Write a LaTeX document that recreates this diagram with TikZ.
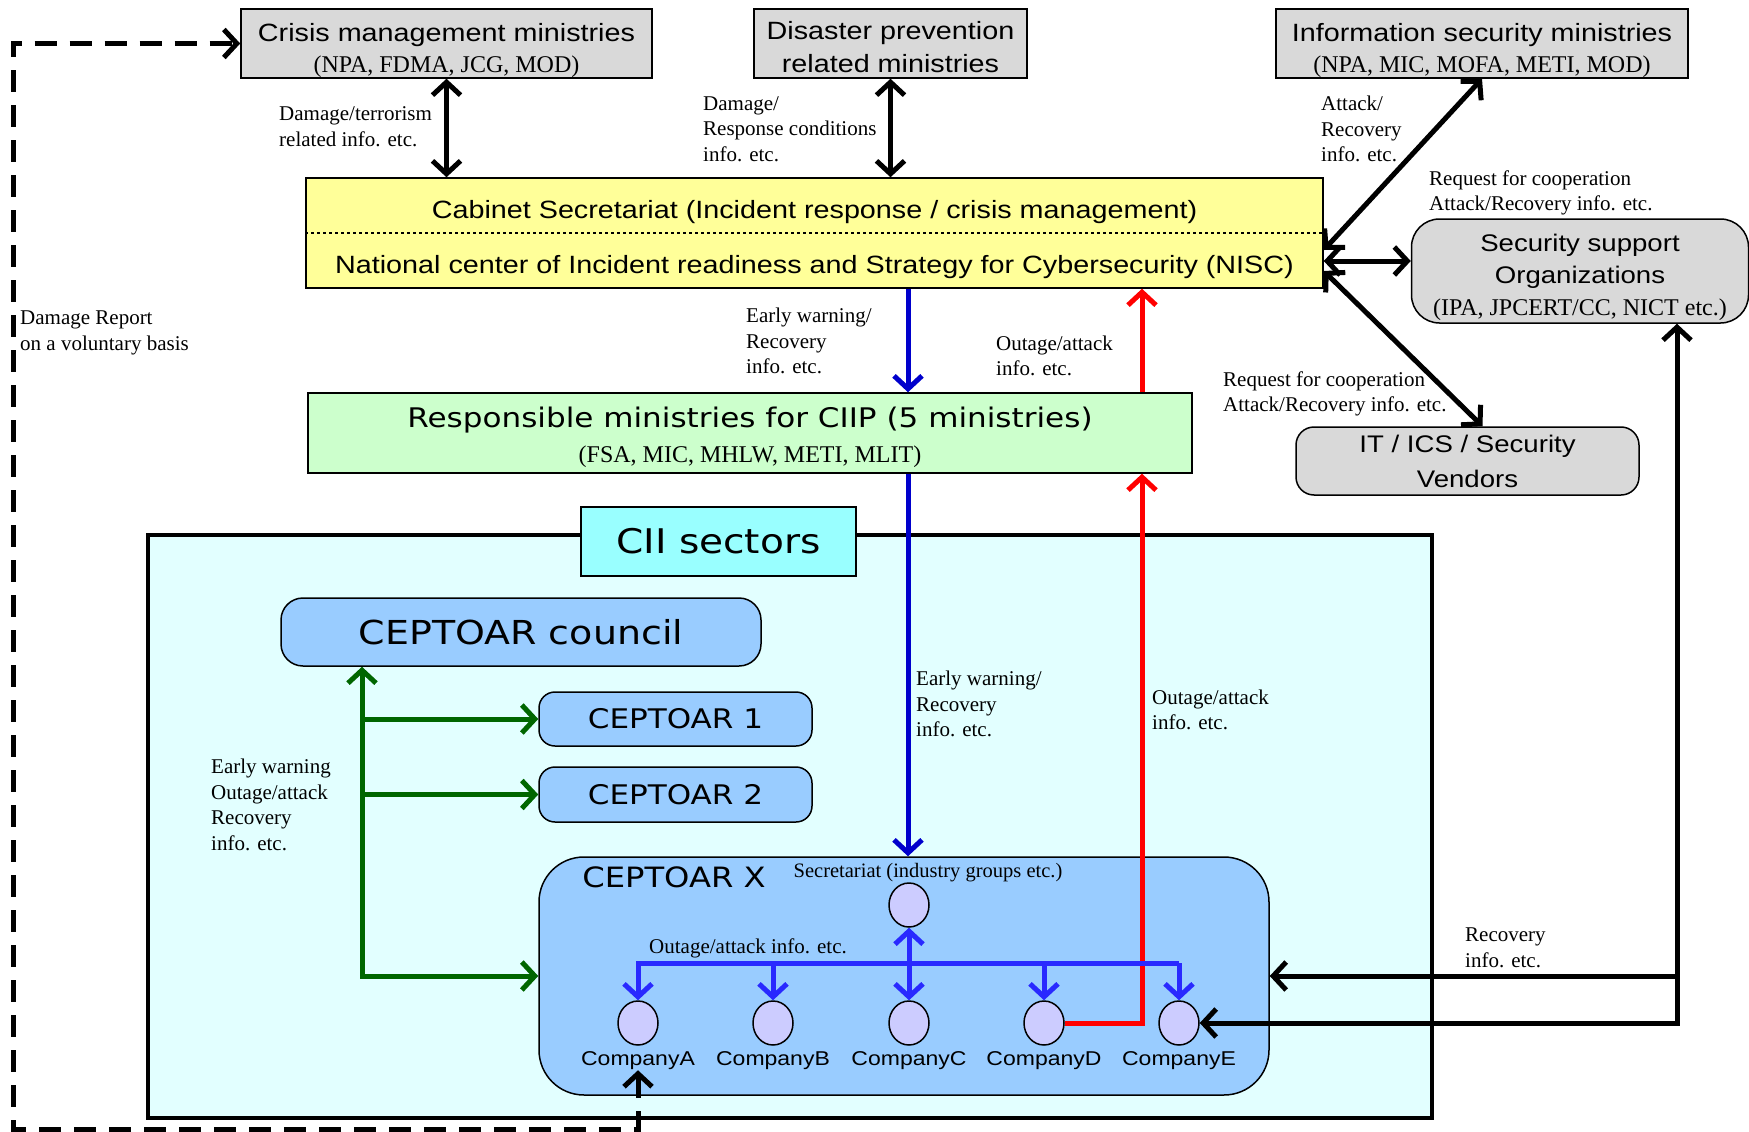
\documentclass[tikz,border=0pt]{standalone}
\usepackage{fontspec}
\setmainfont{Liberation Serif}
\newfontfamily\boxfont[FakeStretch=1.15]{Liberation Sans}
\newfontfamily\ceptfont[FakeStretch=1.15]{DejaVu Sans}
\usetikzlibrary{shapes, arrows.meta}

\definecolor{boxgray}{RGB}{217,217,217}
\definecolor{cabyellow}{RGB}{255,255,153}
\definecolor{ciipgreen}{RGB}{204,255,204}
\definecolor{ciibg}{RGB}{226,255,255}
\definecolor{ciilabel}{RGB}{153,255,255}
\definecolor{ceptblue}{RGB}{153,204,255}
\definecolor{circfill}{RGB}{204,204,255}
\definecolor{darkblue}{RGB}{0,0,204}
\definecolor{busblue}{RGB}{41,41,255}
\definecolor{darkgreen}{RGB}{0,102,0}

\newcommand{\boxtxt}{\boxfont\fontsize{25}{31}\selectfont}
\newcommand{\subtxt}{\rmfamily\fontsize{24}{31}\selectfont}
\newcommand{\lbltxt}{\rmfamily\fontsize{21}{25.7}\selectfont}
\newcommand{\ceptxt}[2]{\ceptfont\fontsize{#1}{#2}\selectfont}
\newcommand{\lift}[1]{\rule{0pt}{#1}}

\begin{document}
\begin{tikzpicture}[x=1pt, y=-1pt, >={Straight Barb[length=13pt, width=28pt]},
  box/.style={rectangle, draw=black, line width=1.5pt, inner sep=0pt, align=center},
  grey/.style={box, fill=boxgray},
  rbox/.style={box, fill=ceptblue},
  circ/.style={ellipse, draw=black, line width=1.5pt, fill=circfill, minimum width=40pt, minimum height=44pt, inner sep=0pt},
  lbl/.style={anchor=west, align=left, inner sep=0pt, font=\lbltxt},
  conn/.style={line width=5pt}]
\useasboundingbox (0,0) rectangle (1749,1132);

\node[box, line width=4.5pt, fill=ciibg, minimum width=1284pt, minimum height=583pt] (6) at (790,826.5) {};
\node[box, fill=ciilabel, minimum width=275pt, minimum height=69pt, font=\ceptxt{34}{34}] (7) at (718.5,541.5) {CII sectors};

\node[grey, minimum width=411pt, minimum height=69pt, font=\boxtxt] (1) at (446.5,43.5) {\lift{32pt}Crisis management ministries\\\subtxt (NPA, FDMA, JCG, MOD)};
\node[grey, minimum width=273pt, minimum height=69pt, font=\boxfont\fontsize{25}{33}\selectfont] (2) at (890.5,43.5) {\lift{25pt}Disaster prevention\\related ministries};
\node[grey, minimum width=412pt, minimum height=69pt, font=\boxtxt] (3) at (1482,43.5) {\lift{32pt}Information security ministries\\\subtxt (NPA, MIC, MOFA, METI, MOD)};
\node[box, fill=cabyellow, minimum width=1017pt, minimum height=110pt, font=\boxtxt] (4) at (814.5,233) {\lift{31pt}Cabinet Secretariat (Incident response / crisis management)\\[24pt]National center of Incident readiness and Strategy for Cybersecurity (NISC)};
\node[box, fill=ciipgreen, minimum width=884pt, minimum height=80pt, font=\ceptxt{27}{35}] (5) at (750,433) {\lift{30pt}Responsible ministries for CIIP (5 ministries)\\\subtxt (FSA, MIC, MHLW, METI, MLIT)};
\node[grey, rounded corners=28pt, minimum width=337pt, minimum height=104pt, font=\boxfont\fontsize{24}{32}\selectfont] (8) at (1580,271) {\lift{31pt}Security support\\Organizations\\\subtxt (IPA, JPCERT/CC, NICT etc.)};
\node[grey, rounded corners=18pt, minimum width=343pt, minimum height=68pt, font=\boxfont\fontsize{24}{35}\selectfont] (9) at (1467.5,461) {IT / ICS / Security\\Vendors};

\node[rbox, rounded corners=22pt, minimum width=480pt, minimum height=68pt, font=\ceptxt{33}{33}] (10) at (521,632) {CEPTOAR council};
\node[rbox, rounded corners=16pt, minimum width=273pt, minimum height=54pt, font=\ceptxt{27}{27}] (11) at (675.5,719) {CEPTOAR 1};
\node[rbox, rounded corners=16pt, minimum width=273pt, minimum height=55pt, font=\ceptxt{27}{27}] (12) at (675.5,794.5) {CEPTOAR 2};
\node[rbox, rounded corners=45pt, minimum width=730pt, minimum height=238pt] (13) at (904,976) {};
\node[inner sep=0pt, font=\ceptxt{28}{28}] (25) at (674,877) {CEPTOAR X};
\node[inner sep=0pt, font=\rmfamily\fontsize{20.5}{24}\selectfont] (26) at (928,873) {Secretariat (industry groups etc.)};

\node[circ] (14) at (909,905) {};
\node[circ] (15) at (638,1023) {};
\node[circ] (16) at (773,1023) {};
\node[circ] (17) at (909,1023) {};
\node[circ] (18) at (1044,1023) {};
\node[circ] (19) at (1179,1023) {};
\node[inner sep=0pt, font=\boxfont\fontsize{20}{24}\selectfont] (20) at (638,1061) {CompanyA};
\node[inner sep=0pt, font=\boxfont\fontsize{20}{24}\selectfont] (21) at (773,1061) {CompanyB};
\node[inner sep=0pt, font=\boxfont\fontsize{20}{24}\selectfont] (22) at (909,1061) {CompanyC};
\node[inner sep=0pt, font=\boxfont\fontsize{20}{24}\selectfont] (23) at (1044,1061) {CompanyD};
\node[inner sep=0pt, font=\boxfont\fontsize{20}{24}\selectfont] (24) at (1179,1061) {CompanyE};

\node[lbl] (30) at (279,127) {Damage/terrorism\\related info. etc.};
\node[lbl] (31) at (703,129) {Damage/\\Response conditions\\info. etc.};
\node[lbl] (32) at (1321,129) {Attack/\\Recovery\\info. etc.};
\node[lbl] (33) at (1429,193) {Request for cooperation\\Attack/Recovery info. etc.};
\node[lbl] (34) at (1223,394) {Request for cooperation\\Attack/Recovery info. etc.};
\node[lbl] (35) at (746,341) {Early warning/\\Recovery\\info. etc.};
\node[lbl] (36) at (996,356) {Outage/attack\\info. etc.};
\node[lbl] (37) at (20,333) {Damage Report\\on a voluntary basis};
\node[lbl] (38) at (916,704) {Early warning/\\Recovery\\info. etc.};
\node[lbl] (39) at (1152,710) {Outage/attack\\info. etc.};
\node[lbl] (40) at (211,805) {Early warning\\Outage/attack\\Recovery\\info. etc.};
\node[lbl] (41) at (1465,948) {Recovery\\info. etc.};
\node[lbl] (42) at (649,948) {Outage/attack info. etc.};

\coordinate (43) at (909,963);
\coordinate (44) at (13,1129);

\draw[conn, <->] (1.south) -- (1.south |- 4.north);
\draw[conn, <->] (2.south) -- (2.south |- 4.north);
\draw[conn, <->] (3.south) -- ([yshift=-17pt]4.east);
\draw[conn, <->] ([yshift=-28pt]4.east) -- ([yshift=-28pt]4.east -| 8.west);
\draw[conn, <->] ([yshift=-38pt]4.east) -- ([xshift=15pt]9.north);
\draw[conn, darkblue, ->] ([xshift=93.5pt]4.south) -- ([xshift=93.5pt]4.south |- 5.north);
\draw[conn, red, ->] ([xshift=327.5pt]4.south |- 5.north) -- ([xshift=327.5pt]4.south);
\draw[conn, darkblue, ->] ([xshift=158pt]5.south) -- ([xshift=158pt]5.south |- 13.north);
\draw[conn, red, ->] (18.east) -| ([xshift=392pt]5.south);
\draw[conn, darkgreen, <->] (13.west) -| ([xshift=-159pt]10.south);
\draw[conn, darkgreen, ->] ([xshift=-159pt]10.south |- 11.west) -- (11.west);
\draw[conn, darkgreen, ->] ([xshift=-159pt]10.south |- 12.west) -- (12.west);
\draw[conn, <->] (19.east) -| ([xshift=97pt]8.south);
\draw[conn, ->] ([xshift=97pt]8.south |- 13.east) -- (13.east);
\draw[conn, busblue, ->] (43 -| 19.north) -| (15.north);
\draw[conn, busblue, ->] (43 -| 16.north) -- (16.north);
\draw[conn, busblue, <->] (14.south) -- (17.north);
\draw[conn, busblue, ->] (43 -| 18.north) -- (18.north);
\draw[conn, busblue, ->] (43 -| 19.north) -- (19.north);
\draw[conn, dash pattern=on 22pt off 13pt, <->] (20.south) |- (44) |- (1.west);
\draw[line width=1.2pt, dashed] (4.west) -- (4.east);
\end{tikzpicture}
\end{document}
